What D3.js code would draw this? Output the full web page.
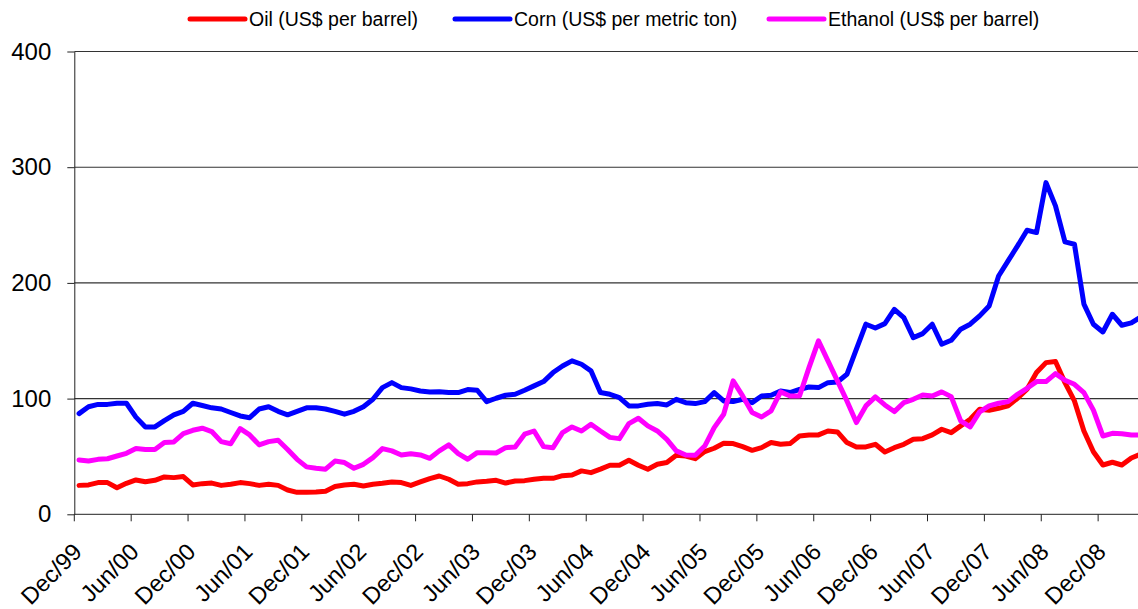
<!DOCTYPE html>
<html><head><meta charset="utf-8">
<script src="https://cdn.jsdelivr.net/npm/d3@7"></script>
<style>body{margin:0;background:#fff}svg{display:block;font-family:"Liberation Sans",Arial,sans-serif}</style>
</head><body><svg id="c" width="1138" height="609"></svg>
<script>
const seriesNames = ["Oil (US$ per barrel)", "Corn (US$ per metric ton)", "Ethanol (US$ per barrel)"];
const seriesColors = ["#ff0000", "#0000ff", "#ff00ff"];
const oil = [25,25.4,27.4,27.4,23,26.8,29.7,28.2,29.4,32.3,31.7,32.6,25.4,26.5,27,25,26,27.4,26.5,25,26,25,21,19,19,19.3,20,24,
25.4,26,24.5,26,26.8,28,27.4,25,28,30.8,33.1,30.3,26,26.5,28,28.5,29.4,27,28.8,29.1,30.3,31.1,31.1,33.4,34,37.5,36,39,42.4,
42.4,46.7,42.4,38.9,43.2,44.7,51,50.4,48.1,54.2,57.1,61.4,61.1,58.5,55.3,57.6,62,60.5,61.1,67.7,68.6,68.6,72,71.2,62,58.2,58.2,60.5,
53.9,57.6,60.5,64.8,65.4,68.6,73.5,70.6,76.4,82.1,90.8,89.9,91.6,93.7,100.3,108.1,122.5,131.1,132,113.8,98,72,54,42.6,45,42.6,48.7,52];
const corn = [87,93,95,95,96,96,84,75.5,75.5,81,86,89,96,94,92,91,88,85,83.5,91,93,89,86,89,92,92,91,89,
86.5,89,93,99.4,109.5,113.8,109.5,108.4,106.6,105.8,106,105.2,105.2,107.8,107.2,97.4,100.3,102.9,103.7,107.2,111,114.7,122.5,128.2,132.6,129.7,124,105.2,103.7,
100.9,93.7,93.7,95.1,95.7,94.5,99.4,96.5,95.7,97.4,105.2,98,97.4,99.4,96.5,102.3,102.9,106.6,105.2,108,110,109.5,113.8,114.4,121,142.7,164.3,161,
164.8,177.2,170,152.7,156.2,164.3,147,150.4,160,164.3,171.5,180.1,206,219,232,245.5,243.5,286.7,266.6,235.4,233.4,181.6,164.3,157.6,172.9,163.4,165.4,170.5];
const ethanol = [47,46,47.5,48,50.4,52.7,56.8,56,56,62,62.5,69.7,72.6,74.4,71.5,62.8,61,74,68.6,60,62.8,64,56,47.5,41,39.8,39,46,
44.7,39.8,43.2,49,56.8,54.8,51.3,52.4,51.3,48.4,54.8,60,52.4,47.6,53.3,53.3,53,57.6,58.2,69.2,72,58.5,57.6,70.6,75.5,72,77.8,72,66.5,
65.4,78.4,83,76.4,72,64.8,54.8,51.3,51,59,74.9,86.5,115.3,102.3,87.9,84.1,89.3,105.8,102.3,102.3,126.8,149.9,132.6,115.3,98,79.3,93.7,101.5,
94.5,88.8,96.5,99.4,103.2,102.3,105.8,101.7,80.7,75.5,88.5,93.7,96,97.4,103.7,108.9,114.7,114.7,121.6,115.9,112.4,105.2,90,67.7,70,69.7,68.6,68.6];
const categories = d3.utcMonth.range(new Date(Date.UTC(1999,11,1)), new Date(Date.UTC(2009,4,1)));
const tickLabels = ["Dec/99","Jun/00","Dec/00","Jun/01","Dec/01","Jun/02","Dec/02","Jun/03","Dec/03","Jun/04","Dec/04","Jun/05","Dec/05","Jun/06","Dec/06","Jun/07","Dec/07","Jun/08","Dec/08"];
const yTicks = [0,100,200,300,400];

const svg = d3.select("#c");
const L = 74.3, W = 1138, T = 51.5, B = 514.3, band = 9.48;
const x = d3.scaleBand().domain(d3.range(categories.length)).range([L, L + band * categories.length]).paddingInner(0).paddingOuter(0);
const y = d3.scaleLinear().domain([0, 400]).range([B, T]);
const cx = i => x(i) + x.bandwidth() / 2;

// gridlines
svg.append("g").selectAll("line").data(yTicks.filter(d => d > 0)).join("line")
  .attr("x1", L).attr("x2", W).attr("y1", d => y(d)).attr("y2", d => y(d))
  .attr("stroke", "#333").attr("stroke-width", 1.1);

// y axis
const ya = svg.append("g").attr("transform", `translate(${L},0)`)
  .call(d3.axisLeft(y).tickValues(yTicks).tickSize(7).tickSizeOuter(0));
ya.select(".domain").attr("stroke", "#222");
ya.selectAll(".tick line").attr("stroke", "#222");
ya.selectAll(".tick text").attr("font-size", 24).attr("fill", "#000").attr("x", -23).attr("font-family", "Liberation Sans, Arial, sans-serif");

// x axis
const xa = svg.append("g").attr("transform", `translate(0,${B})`);
xa.append("line").attr("x1", L).attr("x2", W).attr("stroke", "#222");
const tickIdx = tickLabels.map((t, k) => k * 6);
xa.selectAll("line.t").data(tickIdx).join("line").attr("class", "t")
  .attr("x1", d => x(d)).attr("x2", d => x(d)).attr("y1", 0).attr("y2", 7).attr("stroke", "#222");
xa.selectAll("text").data(tickLabels).join("text")
  .attr("transform", (t, k) => `translate(${x(k * 6) + 9},${39}) rotate(-45)`)
  .attr("text-anchor", "end").attr("font-size", 23.5).attr("fill", "#000").text(t => t);

// lines
const data = [oil, corn, ethanol];
const line = d3.line().x((d, i) => cx(i)).y(d => y(d));
svg.append("g").selectAll("path").data(data).join("path")
  .attr("d", line).attr("fill", "none")
  .attr("stroke", (d, i) => seriesColors[i]).attr("stroke-width", 5)
  .attr("stroke-linejoin", "round").attr("stroke-linecap", "round");

// legend
const legX = [190, 455, 769];
const lg = svg.append("g").selectAll("g").data(seriesNames).join("g")
  .attr("transform", (d, i) => `translate(${legX[i]},19)`);
lg.append("line").attr("x1", 0).attr("x2", 55).attr("stroke", (d, i) => seriesColors[i])
  .attr("stroke-width", 5).attr("stroke-linecap", "round");
lg.append("text").attr("x", 59).attr("dy", "0.35em").attr("font-size", 19.5).attr("fill", "#000").text(d => d);
</script></body></html>
